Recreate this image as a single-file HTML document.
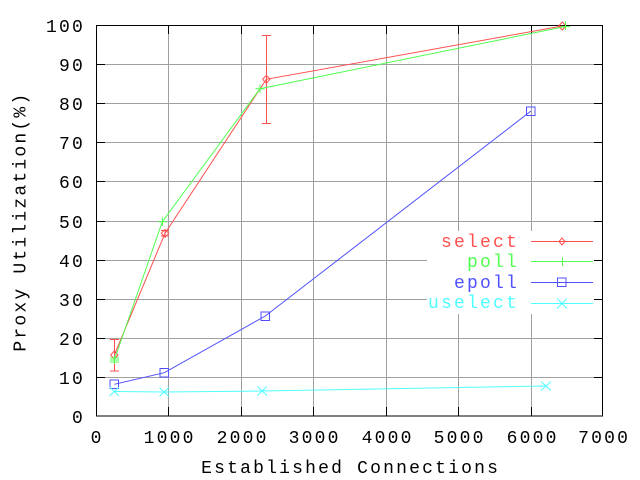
<!DOCTYPE html>
<html><head><meta charset="utf-8"><style>
html,body{margin:0;padding:0;background:#fff;}
svg{display:block;}
text{font-family:"Liberation Mono","DejaVu Sans Mono",monospace;font-size:18px;letter-spacing:2.2px;}
</style></head><body>
<svg width="640" height="480" viewBox="0 0 640 480" xmlns="http://www.w3.org/2000/svg">
<rect width="640" height="480" fill="#fff"/>
<!-- grid -->
<g stroke="#a0a0a0" stroke-width="1" shape-rendering="crispEdges">
<line x1="168.5" y1="25" x2="168.5" y2="416"/>
<line x1="241.5" y1="25" x2="241.5" y2="416"/>
<line x1="313.5" y1="25" x2="313.5" y2="416"/>
<line x1="386.5" y1="25" x2="386.5" y2="416"/>
<line x1="458.5" y1="25" x2="458.5" y2="416"/>
<line x1="531.5" y1="25" x2="531.5" y2="416"/>
<line x1="96" y1="64.5" x2="603" y2="64.5"/>
<line x1="96" y1="103.5" x2="603" y2="103.5"/>
<line x1="96" y1="142.5" x2="603" y2="142.5"/>
<line x1="96" y1="181.5" x2="603" y2="181.5"/>
<line x1="96" y1="221.5" x2="603" y2="221.5"/>
<line x1="96" y1="260.5" x2="603" y2="260.5"/>
<line x1="96" y1="299.5" x2="603" y2="299.5"/>
<line x1="96" y1="338.5" x2="603" y2="338.5"/>
<line x1="96" y1="377.5" x2="603" y2="377.5"/>
</g>
<!-- legend box (opaque) -->
<rect x="427" y="231" width="167" height="83" fill="#fff"/>
<!-- frame & ticks -->
<g stroke="#000" stroke-width="1" shape-rendering="crispEdges" fill="none">
<rect x="96.5" y="25.5" width="506" height="390.5"/>
<path d="M168.5 416V407M241.5 416V407M313.5 416V407M386.5 416V407M458.5 416V407M531.5 416V407
M168.5 25V34M241.5 25V34M313.5 25V34M386.5 25V34M458.5 25V34M531.5 25V34
M96 64.5H105M96 103.5H105M96 142.5H105M96 181.5H105M96 221.5H105M96 260.5H105M96 299.5H105M96 338.5H105M96 377.5H105
M603 64.5H594M603 103.5H594M603 142.5H594M603 181.5H594M603 221.5H594M603 260.5H594M603 299.5H594M603 338.5H594M603 377.5H594"/>
</g>
<!-- y tick labels -->
<g fill="#000" text-anchor="end">
<text x="85" y="32">100</text>
<text x="85" y="71">90</text>
<text x="85" y="110">80</text>
<text x="85" y="149">70</text>
<text x="85" y="188">60</text>
<text x="85" y="228">50</text>
<text x="85" y="267">40</text>
<text x="85" y="306">30</text>
<text x="85" y="345">20</text>
<text x="85" y="384">10</text>
<text x="85" y="423">0</text>
</g>
<!-- x tick labels -->
<g fill="#000" text-anchor="middle">
<text x="97.1" y="443">0</text>
<text x="169.6" y="443">1000</text>
<text x="242.6" y="443">2000</text>
<text x="314.6" y="443">3000</text>
<text x="387.6" y="443">4000</text>
<text x="459.6" y="443">5000</text>
<text x="532.6" y="443">6000</text>
<text x="604.1" y="443">7000</text>
</g>
<!-- axis labels -->
<text x="350.6" y="473" text-anchor="middle" fill="#000">Established Connections</text>
<text transform="translate(25.5,221.6) rotate(-90)" text-anchor="middle" fill="#000">Proxy Utilization(%)</text>

<!-- series: select (red) -->
<g stroke="#ff5050" stroke-width="1" fill="none">
<polyline points="114.3,355 165,233.3 266.3,79.3 562.3,26"/>
<path d="M114.5 339.5V371M110 339.5H119M110 371H119"/>
<path d="M165 230V236M161 230.5H169M161 236H169"/>
<path d="M266.5 35.5V123.5M262 35.5H271M262 123.5H271"/>
<path d="M114.3 351L118 355L114.3 359L110.6 355Z"/>
<path d="M165 229.3L168.7 233.3L165 237.3L161.3 233.3Z"/>
<path d="M266.3 75.3L270 79.3L266.3 83.3L262.6 79.3Z"/>
<path d="M562.3 22L566 26L562.3 30L558.6 26Z"/>
</g>
<!-- series: poll (green) -->
<g stroke="#50ff50" stroke-width="1" fill="none">
<polyline points="114.3,360 162.3,221.7 260,88.7 565.3,26.5"/>
<path d="M110 360H119M114.5 356V364M110 358H119M110 362H119"/>
<path d="M158 221.7H167M162.5 217.5V226"/>
<path d="M255.5 88.7H264.5M260 84.5V93"/>
<path d="M561 26.5H570M565.5 21V30"/>
</g>
<!-- series: epoll (blue) -->
<g stroke="#5050ff" stroke-width="1" fill="none">
<polyline points="114.3,384.3 164.3,372.7 265.3,316 531,111"/>
<rect x="110" y="380" width="8.5" height="8.5"/>
<rect x="160" y="368.5" width="8.5" height="8.5"/>
<rect x="261" y="312" width="8.5" height="8.5"/>
<rect x="526.5" y="107" width="8.5" height="8.5"/>
</g>
<!-- series: uselect (cyan) -->
<g stroke="#50ffff" stroke-width="1" fill="none">
<polyline points="114.3,391.5 164.3,392 262.3,391 546,386"/>
<path d="M109.5 387L119 396M119 387L109.5 396"/>
<path d="M159.5 387.5L169 396.5M169 387.5L159.5 396.5"/>
<path d="M257.5 386.5L267 395.5M267 386.5L257.5 395.5"/>
<path d="M541 381.5L551 390.5M551 381.5L541 390.5"/>
</g>

<!-- legend -->
<g text-anchor="end">
<text x="519" y="247" fill="#ff5050">select</text>
<text x="519" y="267" fill="#50ff50">poll</text>
<text x="519" y="288" fill="#5050ff">epoll</text>
<text x="519" y="308" fill="#50ffff">uselect</text>
</g>
<g stroke-width="1" fill="none">
<path d="M531 241.5H593" stroke="#ff5050"/>
<path d="M562 238L565 241.5L562 245L559 241.5Z" stroke="#ff5050"/>
<path d="M531 261.5H593M562.5 257.5V266" stroke="#50ff50"/>
<path d="M531 282.5H593" stroke="#5050ff"/>
<rect x="557.5" y="278" width="8.5" height="8.5" stroke="#5050ff"/>
<path d="M531 303.5H593M557 298.5L567 308.5M567 298.5L557 308.5" stroke="#50ffff"/>
</g>
</svg>
</body></html>
